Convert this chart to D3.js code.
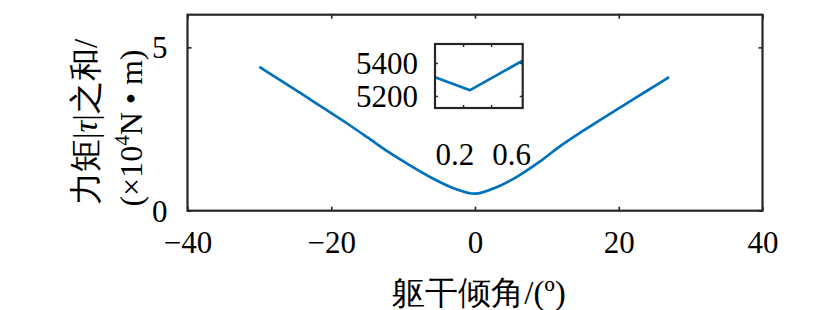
<!DOCTYPE html>
<html>
<head>
<meta charset="utf-8">
<script src="https://cdn.jsdelivr.net/npm/d3@7"></script>
<style>
  body { margin: 0; background: #fff; }
  text { font-family: "Liberation Serif", "Times New Roman", serif; fill: #000; }
</style>
</head>
<body>
<svg id="chart" width="830" height="310"></svg>
<script>
// main curve: trunk angle (deg) vs sum of |torque| (x10^4 N*m)
var angles = [-30, -27, -24, -21, -18, -15, -12, -9, -6, -3, 0, 3, 6, 9, 12, 15, 18, 21, 24, 27];
var torque = [4.40, 3.98, 3.56, 3.13, 2.70, 2.25, 1.79, 1.38, 1.00, 0.69, 0.52, 0.72, 1.06, 1.50, 2.00, 2.44, 2.86, 3.27, 3.68, 4.09];

var xTicks = [-40, -20, 0, 20, 40];
var yTicks = [0, 5];

// inset (zoom near the minimum)
var insetX = [-0.2, 0.3, 1.05];
var insetVals = [5313, 5235, 5414];
var insetXTicks = [0.2, 0.6];
var insetYTicks = [5200, 5400];

// the two loose labels under the inset
var noteText = ["0.2", "0.6"];
var noteX = [-2.8, 5.1];
var noteY = [1.40, 1.40];

var blue = "#0072bd";
var axisCol = "#262626";

var svg = d3.select("#chart");

var x = d3.scaleLinear().domain([-40, 40]).range([187.5, 762.5]);
var y = d3.scaleLinear().domain([0, 6]).range([210.7, 14.7]);

var tick = 4;

// bottom axis with labels
var gx = svg.append("g").attr("transform", "translate(0," + y(0) + ")")
  .call(d3.axisBottom(x).tickValues(xTicks).tickSize(-tick).tickSizeOuter(0).tickPadding(20));
// top axis, no labels
var gxt = svg.append("g").attr("transform", "translate(0," + y(6) + ")")
  .call(d3.axisTop(x).tickValues(xTicks).tickSize(-tick).tickSizeOuter(0).tickFormat(""));
var gy = svg.append("g").attr("transform", "translate(" + x(-40) + ",0)")
  .call(d3.axisLeft(y).tickValues(yTicks).tickSize(-tick).tickSizeOuter(0).tickPadding(20).tickFormat(d3.format("d")));
var gyr = svg.append("g").attr("transform", "translate(" + x(40) + ",0)")
  .call(d3.axisRight(y).tickValues(yTicks).tickSize(-tick).tickSizeOuter(0).tickFormat(""));

[gx, gxt, gy, gyr].forEach(function(g) {
  g.select(".domain").remove();
  g.selectAll("line").attr("stroke", axisCol).attr("stroke-width", 1.6);
  g.selectAll("text").attr("font-family", "Liberation Serif").attr("font-size", 31).attr("fill", "#000");
});
gy.selectAll("text").attr("dy", "0.34em");
gx.selectAll("text").attr("dy", "0.72em");

// box
svg.append("rect")
  .attr("x", x(-40)).attr("y", y(6))
  .attr("width", x(40) - x(-40)).attr("height", y(0) - y(6))
  .attr("fill", "none").attr("stroke", axisCol).attr("stroke-width", 2.2);

var line = d3.line()
  .curve(d3.curveMonotoneX)
  .x(function(d, i) { return x(angles[i]); })
  .y(function(d) { return y(d); });

svg.append("path")
  .datum(torque)
  .attr("d", line)
  .attr("fill", "none")
  .attr("stroke", blue)
  .attr("stroke-width", 2.7)
  .attr("stroke-linejoin", "round");

// annotations
svg.selectAll(".note")
  .data(noteText).enter()
  .append("text")
  .attr("class", "note")
  .attr("x", function(d, i) { return x(noteX[i]); })
  .attr("y", function(d, i) { return y(noteY[i]); })
  .attr("text-anchor", "middle")
  .attr("font-size", 31)
  .text(function(d) { return d; });

// ---- inset ----
var ix = d3.scaleLinear().domain([-0.2, 1.05]).range([435, 522.7]);
var iy = d3.scaleLinear().domain([5127, 5515]).range([108, 44]);
var itick = 3;

var ig1 = svg.append("g").attr("transform", "translate(0," + iy.range()[0] + ")")
  .call(d3.axisBottom(ix).tickValues(insetXTicks).tickSize(-itick).tickSizeOuter(0).tickFormat(""));
var ig2 = svg.append("g").attr("transform", "translate(0," + iy.range()[1] + ")")
  .call(d3.axisTop(ix).tickValues(insetXTicks).tickSize(-itick).tickSizeOuter(0).tickFormat(""));
var ig3 = svg.append("g").attr("transform", "translate(" + ix.range()[0] + ",0)")
  .call(d3.axisLeft(iy).tickValues(insetYTicks).tickSize(-itick).tickSizeOuter(0).tickPadding(17).tickFormat(d3.format("d")));
var ig4 = svg.append("g").attr("transform", "translate(" + ix.range()[1] + ",0)")
  .call(d3.axisRight(iy).tickValues(insetYTicks).tickSize(-itick).tickSizeOuter(0).tickFormat(""));

[ig1, ig2, ig3, ig4].forEach(function(g) {
  g.select(".domain").remove();
  g.selectAll("line").attr("stroke", axisCol).attr("stroke-width", 1.4);
  g.selectAll("text").attr("font-family", "Liberation Serif").attr("font-size", 31).attr("fill", "#000");
});
ig3.selectAll("text").attr("dy", "0.34em");

svg.append("path")
  .datum(insetVals)
  .attr("d", d3.line()
    .x(function(d, i) { return ix(insetX[i]); })
    .y(function(d) { return iy(d); }))
  .attr("fill", "none")
  .attr("stroke", blue)
  .attr("stroke-width", 2.7)
  .attr("stroke-linejoin", "round");

svg.append("rect")
  .attr("x", ix.range()[0]).attr("y", iy.range()[1])
  .attr("width", ix.range()[1] - ix.range()[0]).attr("height", iy.range()[0] - iy.range()[1])
  .attr("fill", "none").attr("stroke", axisCol).attr("stroke-width", 2.2);

// ---- axis titles ----
svg.append("text")
  .attr("x", 479).attr("y", 304)
  .attr("text-anchor", "middle")
  .attr("font-size", 33)
  .text("躯干倾角/(º)");

var yl1 = svg.append("text")
  .attr("transform", "translate(97,122) rotate(-90)")
  .attr("text-anchor", "middle")
  .attr("font-size", 33);
yl1.append("tspan").text("力矩|");
yl1.append("tspan").attr("font-style", "italic").text("τ");
yl1.append("tspan").text("|之和/");

var yl2 = svg.append("text")
  .attr("transform", "translate(142,128) rotate(-90)")
  .attr("text-anchor", "middle")
  .attr("font-size", 32);
yl2.append("tspan").text("(×10");
yl2.append("tspan").attr("dy", -13).attr("font-size", 21).text("4");
yl2.append("tspan").attr("dy", 13).text("N • m)");
</script>
</body>
</html>
